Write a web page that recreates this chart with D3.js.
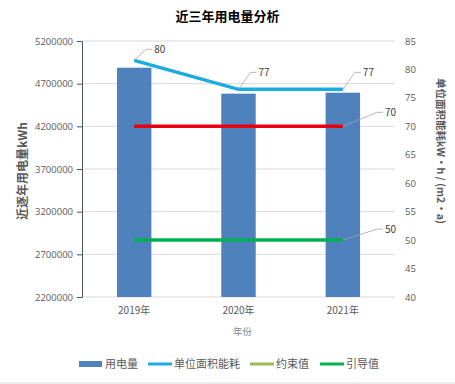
<!DOCTYPE html>
<html>
<head>
<meta charset="utf-8">
<script src="https://cdn.jsdelivr.net/npm/d3@7"></script>
<style>
  body { margin: 0; background: #fff; }
  svg { font-family: "Noto Sans CJK SC", "Noto Sans", sans-serif; }
</style>
</head>
<body>
<div id="chart"></div>
<script>
// data
const years = ['2019年', '2020年', '2021年']
const usage = [4887000, 4583000, 4594000]
const perArea = [81.6, 76.5, 76.5]
const perAreaLabels = ['80', '77', '77']
const constraint = [70, 70, 70]
const guide = [50, 50, 50]
const leftTicks = [2200000, 2700000, 3200000, 3700000, 4200000, 4700000, 5200000]
const rightTicks = [40, 45, 50, 55, 60, 65, 70, 75, 80, 85]

const W = 455, H = 384
const margin = { top: 41, left: 82, right: 60, bottom: 87 }
const width = W - margin.left - margin.right
const height = H - margin.top - margin.bottom

const svg = d3.select('#chart').append('svg')
  .attr('width', W).attr('height', H)

const g = svg.append('g')
  .attr('transform', `translate(${margin.left},${margin.top})`)

const x = d3.scaleBand().domain(years).range([0, width]).paddingInner(0.67).paddingOuter(0.335)
const yL = d3.scaleLinear().domain([2200000, 5200000]).range([height, 0])
const yR = d3.scaleLinear().domain([40, 85]).range([height, 0])
const cx = d => x(d) + x.bandwidth() / 2

// title
svg.append('text').text('近三年用电量分析')
  .attr('x', W / 2).attr('y', 21).attr('text-anchor', 'middle')
  .attr('font-size', 13).attr('font-weight', 'bold').attr('fill', '#000')

// gridlines
g.selectAll('.grid').data(leftTicks).enter().append('line')
  .attr('x1', 0).attr('x2', width)
  .attr('y1', d => yL(d)).attr('y2', d => yL(d))
  .attr('stroke', '#d9d9d9').attr('stroke-width', 1)

// left axis
const axL = g.append('g').call(d3.axisLeft(yL).tickValues(leftTicks).tickSize(5).tickPadding(4).tickFormat(d3.format('d')))
axL.select('.domain').attr('stroke', '#44546a')
axL.selectAll('.tick line').attr('stroke', '#44546a')
axL.selectAll('text').attr('font-size', 9.5).attr('fill', '#595959')
  .attr('font-family', '"Open Sans", "Noto Sans", sans-serif')

// right axis
const axR = g.append('g').attr('transform', `translate(${width},0)`)
  .call(d3.axisRight(yR).tickValues(rightTicks).tickSize(0).tickPadding(10))
axR.select('.domain').remove()
axR.selectAll('text').attr('font-size', 9.5).attr('fill', '#595959')
  .attr('font-family', '"Open Sans", "Noto Sans", sans-serif')

// x axis labels
g.selectAll('.xl').data(years).enter().append('text')
  .attr('x', d => cx(d)).attr('y', height + 17)
  .attr('text-anchor', 'middle').attr('font-size', 10).attr('fill', '#595959')
  .text(d => d)

g.append('text').text('年份')
  .attr('x', width / 2 + 4).attr('y', height + 38)
  .attr('text-anchor', 'middle').attr('font-size', 9.5).attr('fill', '#888')

// axis titles
svg.append('text').text('近逐年用电量kWh')
  .attr('transform', `translate(27,${margin.top + height / 2 + 2}) rotate(-90)`)
  .attr('text-anchor', 'middle').attr('font-size', 12).attr('font-weight', 'bold').attr('fill', '#595959')

svg.append('text').text('单位面积能耗kW•h / (m2•a)')
  .attr('transform', `translate(437,${margin.top + height / 2 - 18}) rotate(90)`)
  .attr('text-anchor', 'middle').attr('font-size', 10.5).attr('font-weight', 'bold').attr('fill', '#595959')

// bars
g.selectAll('.bar').data(usage).enter().append('rect')
  .attr('x', (d, i) => x(years[i])).attr('width', x.bandwidth())
  .attr('y', d => yL(d)).attr('height', d => height - yL(d))
  .attr('fill', '#4f81bd')

// lines
const lineR = vals => d3.line().x((d, i) => cx(years[i])).y(d => yR(d))(vals)
g.append('path').attr('d', lineR(constraint)).attr('fill', 'none').attr('stroke', '#e8000f').attr('stroke-width', 3.5)
g.append('path').attr('d', lineR(guide)).attr('fill', 'none').attr('stroke', '#00b050').attr('stroke-width', 3.5)
g.append('path').attr('d', lineR(perArea)).attr('fill', 'none').attr('stroke', '#1aabe0').attr('stroke-width', 3.5)

// data labels with leader lines
const leader = (x0, y0, x1, y1, txt) => {
  g.append('path').attr('d', `M${x0},${y0}L${x1},${y1}h6`)
    .attr('fill', 'none').attr('stroke', '#a6a6a6').attr('stroke-width', 0.8)
  g.append('text').text(txt).attr('x', x1 + 8).attr('y', y1 + 3.5)
    .attr('font-size', 10).attr('fill', '#404040')
}
perArea.forEach((v, i) => {
  const dy = i === 0 ? -11 : -17
  leader(cx(years[i]), yR(v), cx(years[i]) + 12, yR(v) + dy, perAreaLabels[i])
})
leader(cx(years[2]), yR(constraint[2]), width - 18, yR(constraint[2]) - 14, String(constraint[2]))
leader(cx(years[2]), yR(guide[2]), width - 18, yR(guide[2]) - 11, String(guide[2]))

// legend
const legend = [
  { name: '用电量', color: '#4f81bd', type: 'rect', x: 79 },
  { name: '单位面积能耗', color: '#1aabe0', type: 'line', x: 148 },
  { name: '约束值', color: '#9bbb59', type: 'line', x: 250 },
  { name: '引导值', color: '#00b050', type: 'line', x: 320 }
]
const ly = 364
legend.forEach(l => {
  if (l.type === 'rect') {
    svg.append('rect').attr('x', l.x).attr('y', ly - 3).attr('width', 23).attr('height', 6).attr('fill', l.color)
  } else {
    svg.append('line').attr('x1', l.x).attr('x2', l.x + 24).attr('y1', ly).attr('y2', ly)
      .attr('stroke', l.color).attr('stroke-width', 3)
  }
  svg.append('text').text(l.name).attr('x', l.x + 26).attr('y', ly + 4)
    .attr('font-size', 11).attr('fill', '#595959')
})

svg.append('line').attr('x1', 0).attr('x2', W).attr('y1', H - 1).attr('y2', H - 1)
  .attr('stroke', '#d9d9d9')
</script>
</body>
</html>
